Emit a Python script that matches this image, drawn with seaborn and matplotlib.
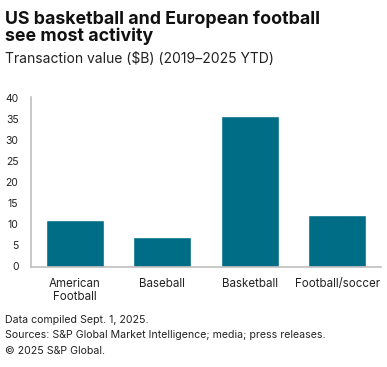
import matplotlib
matplotlib.use("Agg")
import matplotlib.pyplot as plt
import seaborn as sns
import pandas as pd

categories = ["American\nFootball", "Baseball", "Basketball", "Football/soccer"]
values = [11.0, 6.9, 35.7, 12.1]
yticks = [0, 5, 10, 15, 20, 25, 30, 35, 40]

title = "US basketball and European football\nsee most activity"
subtitle = "Transaction value ($B) (2019\u20132025 YTD)"
footer = ["Data compiled Sept. 1, 2025.",
          "Sources: S&P Global Market Intelligence; media; press releases.",
          "\u00a9 2025 S&P Global."]

sns.set_theme(style="white")
plt.rcParams['font.family'] = ['Inter', 'DejaVu Sans']

W, H = 387, 367
fig = plt.figure(figsize=(W / 100, H / 100), dpi=100)
ax = fig.add_axes([31 / W, (H - 266.5) / H, 350 / W, 169 / H])

df = pd.DataFrame({"cat": categories, "val": values})
sns.barplot(data=df, x="cat", y="val", color="#006d87", width=0.66,
            saturation=1, ax=ax)

ax.set_xlim(-0.5, 3.5)
ax.set_ylim(0, 40)
ax.set_yticks(yticks)
ax.set_xlabel("")
ax.set_ylabel("")
ax.tick_params(axis="y", length=0, pad=9, labelsize=7.5, labelcolor="#222222")
ax.tick_params(axis="x", length=0, pad=8, labelsize=8.3, labelcolor="#222222")
for s in ["top", "right"]:
    ax.spines[s].set_visible(False)
for s in ["left", "bottom"]:
    ax.spines[s].set_color("#bfbfbf")
    ax.spines[s].set_linewidth(1.2)
ax.grid(False)

fig.text(5 / W, 1 - 10 / H, title, fontsize=12.8, fontweight="bold",
         color="#111111", va="top", ha="left", linespacing=1.0)
fig.text(5 / W, 1 - 52 / H, subtitle, fontsize=10.0, color="#222222",
         va="top", ha="left")
for i, line in enumerate(footer):
    fig.text(5 / W, 1 - (320 + i * 15.5) / H, line, fontsize=7.6,
             color="#222222", va="center", ha="left")

fig.savefig("out.png", dpi=100)
